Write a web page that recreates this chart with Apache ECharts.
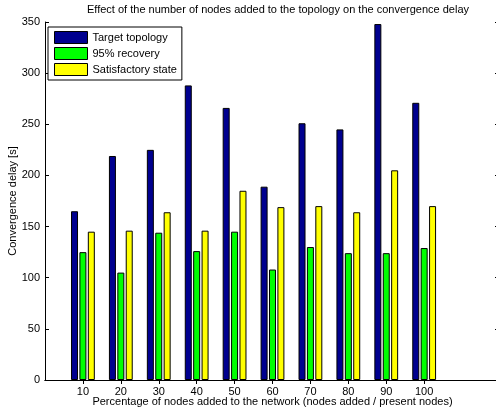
<!DOCTYPE html>
<html>
<head>
<meta charset="utf-8">
<script src="https://cdn.jsdelivr.net/npm/echarts@6/dist/echarts.min.js"></script>
<style>html,body{margin:0;padding:0;background:#fff;}#c{width:496px;height:410px;}</style>
</head>
<body>
<div id="c"></div>
<script>
const categories = ['10','20','30','40','50','60','70','80','90','100'];
const targetTopology = [165, 219, 225, 288, 266, 189, 251, 245, 348, 271];
const recovery95 = [125, 105, 144, 126, 145, 108, 130, 124, 124, 129];
const satisfactory = [145, 146, 164, 146, 185, 169, 170, 164, 205, 170];
const yTicks = [0, 50, 100, 150, 200, 250, 300, 350];

// axis spans 0..12 in MATLAB units; categories sit at 1..10
const axisCats = [''].concat(categories, ['', '']);
const pad = arr => [null].concat(arr, [null, null]);

const FONT = 'Liberation Sans, Arial, Helvetica, sans-serif';
const chart = echarts.init(document.getElementById('c'), null, {renderer: 'canvas'});
const tickFn = (i, v) => v !== '';
const barBase = {type: 'bar', barWidth: 7, barGap: '20%'};

chart.setOption({
  animation: false,
  backgroundColor: '#fff',
  textStyle: {fontFamily: FONT},
  title: {
    text: 'Effect of the number of nodes added to the topology on the convergence delay',
    left: 273, top: 0, padding: [4, 5], textAlign: 'center',
    textStyle: {fontSize: 11, fontWeight: 'normal', color: '#000', fontFamily: FONT}
  },
  legend: {
    orient: 'vertical', left: 48, top: 27,
    itemWidth: 33, itemHeight: 12, itemGap: 3,
    padding: [4, 5, 4, 6],
    borderColor: '#000', borderWidth: 1, backgroundColor: '#fff',
    icon: 'rect',
    textStyle: {fontSize: 11, color: '#000', fontFamily: FONT},
    itemStyle: {borderColor: '#000', borderWidth: 1},
    data: ['Target topology', '95% recovery', 'Satisfactory state']
  },
  grid: {left: 45, top: 22, width: 455, height: 358, outerBoundsMode: 'none'},
  xAxis: [{
    type: 'category', data: axisCats, boundaryGap: false, position: 'bottom',
    name: 'Percentage of nodes added to the network (nodes added / present nodes)',
    nameLocation: 'middle', nameGap: 16, nameMoveOverlap: false,
    nameTextStyle: {fontSize: 11, color: '#000', fontFamily: FONT},
    axisLine: {lineStyle: {color: '#000', width: 1}},
    axisTick: {inside: true, length: 4, interval: tickFn, lineStyle: {color: '#000'}},
    axisLabel: {interval: 0, fontSize: 11, color: '#000', margin: 6, fontFamily: FONT},
    splitLine: {show: false}
  }, {
    type: 'category', data: axisCats, boundaryGap: false, position: 'top',
    axisLine: {lineStyle: {color: '#000', width: 1}},
    axisTick: {inside: true, length: 4, interval: tickFn, lineStyle: {color: '#000'}},
    axisLabel: {show: false},
    splitLine: {show: false}
  }],
  yAxis: [{
    type: 'value', min: yTicks[0], max: yTicks[yTicks.length - 1], interval: 50,
    name: 'Convergence delay [s]', nameLocation: 'middle', nameGap: 27, nameMoveOverlap: false,
    nameTextStyle: {fontSize: 11, color: '#000', fontFamily: FONT},
    axisLine: {show: true, lineStyle: {color: '#000', width: 1}},
    axisTick: {show: true, inside: true, length: 4, lineStyle: {color: '#000'}},
    axisLabel: {fontSize: 11, color: '#000', margin: 5, fontFamily: FONT},
    splitLine: {show: false}
  }, {
    type: 'value', min: yTicks[0], max: yTicks[yTicks.length - 1], interval: 50, position: 'right',
    axisLine: {show: true, lineStyle: {color: '#000', width: 1}},
    axisTick: {show: true, inside: true, length: 5, lineStyle: {color: '#000'}},
    axisLabel: {show: false},
    splitLine: {show: false}
  }],
  series: [
    Object.assign({}, barBase, {name: 'Target topology', data: pad(targetTopology), itemStyle: {color: '#00008F', borderColor: '#000', borderWidth: 1}}),
    Object.assign({}, barBase, {name: '95% recovery', data: pad(recovery95), itemStyle: {color: '#00FF00', borderColor: '#000', borderWidth: 1}}),
    Object.assign({}, barBase, {name: 'Satisfactory state', data: pad(satisfactory), itemStyle: {color: '#FFFF00', borderColor: '#000', borderWidth: 1}})
  ]
});
</script>
</body>
</html>
